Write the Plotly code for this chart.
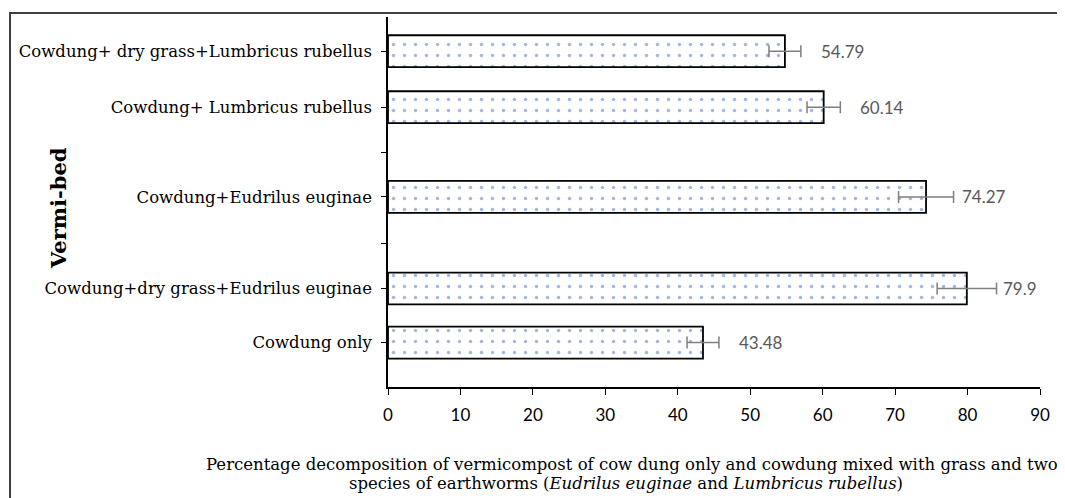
import plotly.graph_objects as go

# Data (bottom to top)
categories = [
    "Cowdung only",
    "Cowdung+dry grass+Eudrilus euginae",
    "Cowdung+Eudrilus euginae",
    "Cowdung+ Lumbricus rubellus",
    "Cowdung+ dry grass+Lumbricus rubellus",
]
values = [43.48, 79.9, 74.27, 60.14, 54.79]
errors = [2.2, 4.1, 3.8, 2.3, 2.2]
value_labels = ["43.48", "79.9", "74.27", "60.14", "54.79"]
x_ticks = [0, 10, 20, 30, 40, 50, 60, 70, 80, 90]

# Layout positions of the category slots on the value axis (layout, not data)
bar_pos = [0.96, 2.13, 4.11, 6.05, 7.26]
gap_ticks = [3.11, 5.06]

OFF = 8  # page body margin
W, H = 1065, 498
L, R, T, B = 388 - OFF, 33, 17 - OFF, 119
pw, ph = W - L - R, H - T - B

def px_x(px):
    return (px - OFF - L) / pw

def px_y(py):
    return (H - B - (py - OFF)) / ph

fig = go.Figure()
fig.add_trace(go.Bar(
    x=values, y=bar_pos, orientation="h", width=0.69,
    marker=dict(color="white", line=dict(color="black", width=1.8),
                pattern=dict(shape=".", fgcolor="#4472C4", bgcolor="white",
                             size=11, solidity=0.08)),
    error_x=dict(type="data", array=errors, visible=True, color="#7f7f7f",
                 thickness=1.5, width=6),
    hoverinfo="skip", showlegend=False,
))

for v, p, t in zip(values, bar_pos, value_labels):
    fig.add_annotation(x=v, y=p, text=t, showarrow=False, xanchor="left",
                       yanchor="middle", xshift=34,
                       font=dict(family="Lato, Noto Sans, sans-serif", size=17, color="#595959"))

tickvals = sorted(bar_pos + gap_ticks)
ticktext = [categories[bar_pos.index(v)] if v in bar_pos else "" for v in tickvals]

fig.update_layout(
    width=W, height=H,
    margin=dict(l=L, r=R, t=T, b=B, autoexpand=False),
    paper_bgcolor="white", plot_bgcolor="white",
    xaxis=dict(range=[0, 90], tickvals=x_ticks, ticks="outside", ticklen=6,
               tickcolor="black", tickwidth=1.3, showline=True, linecolor="black",
               linewidth=1.6, showgrid=False, zeroline=False,
               tickfont=dict(family="Lato, Noto Sans, sans-serif", size=17, color="black"),
               ticklabelstandoff=6),
    yaxis=dict(range=[0, 8], tickvals=tickvals, ticktext=ticktext, ticks="outside",
               ticklen=5, tickcolor="black", tickwidth=1.3, showline=True,
               linecolor="black", linewidth=1.6, showgrid=False, zeroline=False,
               tickfont=dict(family="DejaVu Serif, serif", size=16.5, color="black"),
               ticklabelstandoff=6),
)

# Y axis title
fig.add_annotation(xref="paper", yref="paper", x=px_x(58), y=px_y(208),
                   text="<b>Vermi-bed</b>", textangle=-90, showarrow=False,
                   xanchor="center", yanchor="middle",
                   font=dict(family="DejaVu Serif, serif", size=21, color="black"))

# X axis title (two lines)
title_lines = [
    "Percentage decomposition of vermicompost of cow dung only and cowdung mixed with grass and two",
    "species of earthworms (<i>Eudrilus euginae</i> and <i>Lumbricus rubellus</i>)",
]
for line, py, cx in zip(title_lines, [464, 483], [632, 626]):
    fig.add_annotation(xref="paper", yref="paper", x=px_x(cx), y=px_y(py),
                       text=line, showarrow=False, xanchor="center", yanchor="middle",
                       font=dict(family="DejaVu Serif, serif", size=16.5, color="black"))

# Outer frame
fig.add_shape(type="rect", xref="paper", yref="paper",
              x0=px_x(10), x1=px_x(1085), y0=px_y(520), y1=px_y(13),
              line=dict(color="#404040", width=2), fillcolor="rgba(0,0,0,0)", layer="below")

fig.write_html("out.html")
